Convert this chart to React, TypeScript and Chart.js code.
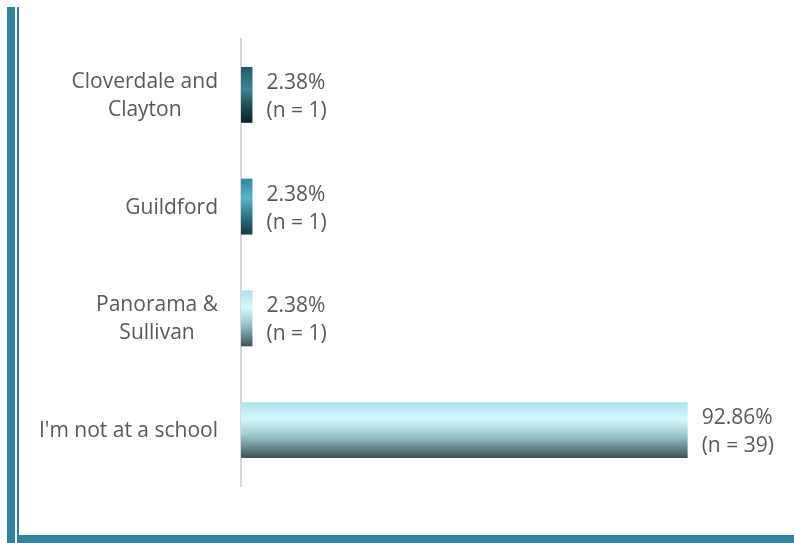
import React, { useEffect, useRef } from "react";
import { Chart, registerables } from "chart.js";

Chart.register(...registerables);

const categories: string[][] = [
  ["Cloverdale and", "Clayton"],
  ["Guildford"],
  ["Panorama &", "Sullivan"],
  ["I'm not at a school"],
];
const percentages: number[] = [2.38, 2.38, 2.38, 92.86];
const counts: number[] = [1, 1, 1, 39];

const gradientStops: [number, string][][] = [
  [[0, "#1f5a68"], [0.4, "#3f8593"], [0.7, "#1d4d58"], [1, "#0b2329"]],
  [[0, "#2d879e"], [0.35, "#5ab6ca"], [0.7, "#2a6f80"], [1, "#123a44"]],
  [[0, "#ade0ec"], [0.3, "#d6f8ff"], [0.6, "#9bc6cf"], [1, "#3b5257"]],
  [[0, "#ade0ec"], [0.3, "#d6f8ff"], [0.6, "#9bc6cf"], [1, "#3b5257"]],
];

const FONT = "'Open Sans', sans-serif";
const TEXT = "#595959";

const labelPlugin = {
  id: "customLabels",
  afterDatasetsDraw(chart: any) {
    const ctx = chart.ctx;
    const meta = chart.getDatasetMeta(0);
    const yScale = chart.scales.y;
    const axisX = chart.chartArea.left;
    ctx.save();
    ctx.font = `21px ${FONT}`;
    ctx.fillStyle = TEXT;
    ctx.textBaseline = "middle";
    categories.forEach((lines, i) => {
      const cy = yScale.getPixelForValue(i) + 1;
      const widest = Math.max(...lines.map((l) => ctx.measureText(l).width));
      const right = axisX - 23;
      const cx = right - widest / 2;
      ctx.textAlign = "center";
      const n = lines.length;
      lines.forEach((l, j) => {
        ctx.fillText(l, cx, cy + (j - (n - 1) / 2) * 28);
      });
    });
    ctx.textAlign = "left";
    meta.data.forEach((el: any, i: number) => {
      const x = el.x + 14;
      ctx.fillText(percentages[i].toFixed(2) + "%", x, el.y - 12);
      ctx.fillText(`(n = ${counts[i]})`, x, el.y + 16);
    });
    ctx.restore();
  },
};

export default function App() {
  const ref = useRef<HTMLCanvasElement | null>(null);
  useEffect(() => {
    document.body.style.margin = "0";
    const canvas = ref.current!;
    const chart = new Chart(canvas, {
      type: "bar",
      data: {
        labels: categories.map((c) => c.join(" ")),
        datasets: [
          {
            data: percentages,
            backgroundColor: (c: any) => {
              const ch = c.chart;
              const i = c.dataIndex;
              if (!ch.chartArea || i === undefined) return "#31849b";
              const y = ch.scales.y;
              const cy = y.getPixelForValue(i);
              const half = (y.getPixelForValue(1) - y.getPixelForValue(0)) * 0.25;
              const g = ch.ctx.createLinearGradient(0, cy - half, 0, cy + half);
              gradientStops[i].forEach(([o, col]) => g.addColorStop(o, col));
              return g;
            },
            borderWidth: 0,
            barPercentage: 1,
            categoryPercentage: 0.5,
          },
        ],
      },
      options: {
        indexAxis: "y",
        responsive: false,
        animation: false,
        layout: { padding: { left: 241, right: 72, top: 39, bottom: 57 } },
        plugins: { legend: { display: false }, tooltip: { enabled: false } },
        scales: {
          x: { display: false, min: 0, max: 100 },
          y: {
            ticks: { display: false },
            grid: { display: false, drawTicks: false },
            border: { display: true, color: "#d9d9d9", width: 2 },
          },
        },
      },
      plugins: [labelPlugin],
    });
    return () => chart.destroy();
  }, []);

  return (
    <div style={{ position: "absolute", left: 0, top: 0, width: 794, height: 543, background: "#fff" }}>
      <div style={{ position: "absolute", left: 7, top: 7, width: 8, height: 536, background: "#31849b" }} />
      <div style={{ position: "absolute", left: 17, top: 7, width: 2, height: 536, background: "#31849b" }} />
      <div style={{ position: "absolute", left: 19, top: 535, width: 775, height: 8, background: "#31849b" }} />
      <canvas ref={ref} width={794} height={543} style={{ position: "absolute", left: 0, top: 0 }} />
    </div>
  );
}
